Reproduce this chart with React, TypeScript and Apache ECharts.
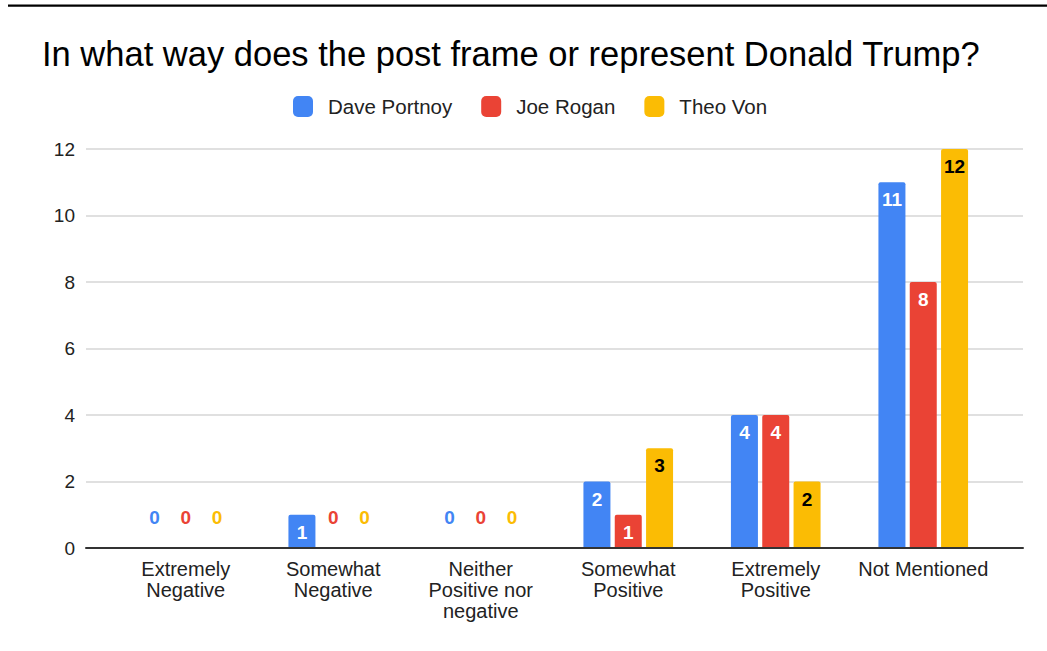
import React, { useEffect, useRef } from "react";
import * as echarts from "echarts";

const categories = [
  "Extremely\nNegative",
  "Somewhat\nNegative",
  "Neither\nPositive nor\nnegative",
  "Somewhat\nPositive",
  "Extremely\nPositive",
  "Not Mentioned",
];
const seriesNames = ["Dave Portnoy", "Joe Rogan", "Theo Von"];
const davePortnoy = [0, 1, 0, 2, 4, 11];
const joeRogan = [0, 0, 0, 1, 4, 8];
const theoVon = [0, 0, 0, 3, 2, 12];
const colors = ["#4285F4", "#EA4335", "#FBBC04"];
const insideLabelColors = ["#ffffff", "#ffffff", "#000000"];
const yTicks = { min: 0, max: 12, interval: 2 };

const FONT = "'Liberation Sans', Arial, Helvetica, sans-serif";

export default function App() {
  const ref = useRef<HTMLDivElement>(null);
  useEffect(() => {
    if (!ref.current) return;
    const chart = echarts.init(ref.current, undefined, { renderer: "svg" });
    const allSeries = [davePortnoy, joeRogan, theoVon];
    const series = allSeries.map((vals, si) => ({
      name: seriesNames[si],
      type: "bar",
      xAxisIndex: 0,
      yAxisIndex: 0,
      barWidth: 27,
      barGap: "16%",
      itemStyle: { color: colors[si], borderRadius: [2, 2, 0, 0] },
      data: vals.map((v) => ({
        value: v,
        label:
          v === 0
            ? {
                show: true,
                position: "top",
                distance: 21,
                color: colors[si],
                fontWeight: "bold",
                fontSize: 19,
                fontFamily: FONT,
              }
            : {
                show: true,
                position: "insideTop",
                distance: 8,
                color: insideLabelColors[si],
                fontWeight: "bold",
                fontSize: 19,
                fontFamily: FONT,
              },
      })),
    }));
    chart.setOption({
      animation: false,
      backgroundColor: "#ffffff",
      textStyle: { fontFamily: FONT },
      title: {
        text: "In what way does the post frame or represent Donald Trump?",
        left: 42,
        top: 36,
        padding: 0,
        textStyle: {
          fontFamily: FONT,
          fontSize: 34.5,
          fontWeight: "normal",
          color: "#000000",
        },
      },
      legend: {
        left: 293,
        top: 96,
        padding: 0,
        itemWidth: 20,
        itemHeight: 21,
        itemGap: 29,
        icon: "roundRect",
        data: seriesNames,
        textStyle: {
          fontFamily: FONT,
          fontSize: 20.5,
          color: "#222222",
          padding: [0, 0, 0, 10],
        },
      },
      graphic: [
        {
          type: "rect",
          shape: { x: 8, y: 4.5, width: 1039, height: 2.2 },
          style: { fill: "#000000" },
          silent: true,
        },
      ],
      grid: [
        { left: 112, width: 885, top: 149, height: 399, containLabel: false },
        { left: 86, width: 937, top: 149, height: 399, containLabel: false },
      ],
      xAxis: [
        {
          gridIndex: 0,
          type: "category",
          data: categories,
          axisLine: { show: false },
          axisTick: { show: false },
          axisLabel: {
            interval: 0,
            margin: 10,
            fontFamily: FONT,
            fontSize: 20,
            lineHeight: 21,
            color: "#222222",
          },
          z: 3,
        },
        {
          gridIndex: 1,
          type: "category",
          data: [""],
          axisLine: { show: true, lineStyle: { color: "#333333", width: 2 } },
          axisTick: { show: false },
          axisLabel: { show: false },
          splitLine: { show: false },
          z: 4,
        },
      ],
      yAxis: [
        {
          gridIndex: 0,
          type: "value",
          min: yTicks.min,
          max: yTicks.max,
          interval: yTicks.interval,
          show: false,
          splitLine: { show: false },
        },
        {
          gridIndex: 1,
          type: "value",
          min: yTicks.min,
          max: yTicks.max,
          interval: yTicks.interval,
          axisLine: { show: false },
          axisTick: { show: false },
          axisLabel: {
            margin: 11,
            fontFamily: FONT,
            fontSize: 19,
            color: "#222222",
          },
          splitLine: { show: true, lineStyle: { color: "#d6d6d6", width: 1.5 } },
        },
      ],
      series,
    });
    return () => chart.dispose();
  }, []);
  return (
    <div
      ref={ref}
      style={{ position: "absolute", left: 0, top: 0, width: 1047, height: 651 }}
    />
  );
}
